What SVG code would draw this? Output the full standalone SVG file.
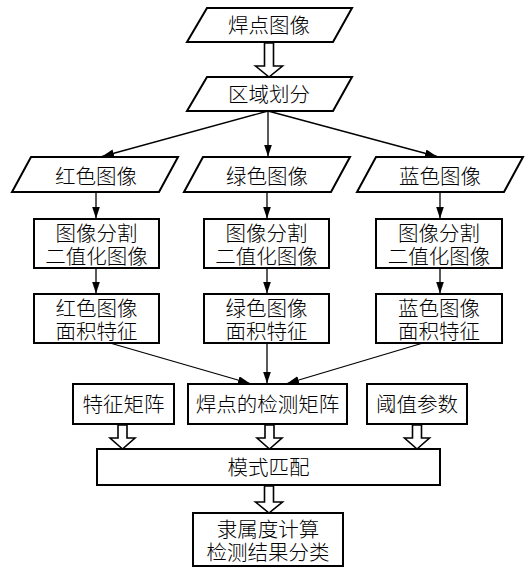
<svg xmlns="http://www.w3.org/2000/svg" width="532" height="569" viewBox="0 0 532 569">
<defs>
<style>
.box{fill:#fff;stroke:#000;stroke-width:2}
.hollow{fill:#fff;stroke:#000;stroke-width:1.6;stroke-linejoin:miter}
.ln{fill:none;stroke:#000;stroke-width:1.3}
text{font-family:"Liberation Sans","Noto Sans CJK SC",sans-serif;font-size:20.5px;font-weight:300;fill:#000;text-anchor:middle;dominant-baseline:central}
</style>
<marker id="ah" viewBox="0 0 12 8" refX="12" refY="4" markerWidth="12" markerHeight="8" markerUnits="userSpaceOnUse" orient="auto">
<path d="M0,0 L12,4 L0,8 Z" fill="#000"/>
</marker>
</defs>
<rect width="532" height="569" fill="#fff"/>
<g id="connectors">
<polygon class="hollow" points="264.5,43 273.5,43 273.5,66 282.5,66 269,77 255.5,66 264.5,66"/>
<line class="ln" x1="268" y1="111" x2="102" y2="156.5" marker-end="url(#ah)"/>
<line class="ln" x1="268" y1="111" x2="268" y2="156.5" marker-end="url(#ah)"/>
<line class="ln" x1="268" y1="111" x2="437" y2="156.5" marker-end="url(#ah)"/>
<line class="ln" x1="96" y1="192" x2="96" y2="218.5" marker-end="url(#ah)"/>
<line class="ln" x1="267" y1="192" x2="267" y2="218.5" marker-end="url(#ah)"/>
<line class="ln" x1="440" y1="192" x2="440" y2="218.5" marker-end="url(#ah)"/>
<line class="ln" x1="96" y1="268" x2="96" y2="293.5" marker-end="url(#ah)"/>
<line class="ln" x1="267" y1="268" x2="267" y2="293.5" marker-end="url(#ah)"/>
<line class="ln" x1="440" y1="268" x2="440" y2="293.5" marker-end="url(#ah)"/>
<line class="ln" x1="110" y1="343" x2="250" y2="383.5" marker-end="url(#ah)"/>
<line class="ln" x1="267" y1="343" x2="267" y2="383.5" marker-end="url(#ah)"/>
<line class="ln" x1="423" y1="343" x2="287" y2="383.5" marker-end="url(#ah)"/>
<polygon class="hollow" points="118,425 127,425 127,438 135,438 122.5,449 110,438 118,438"/>
<polygon class="hollow" points="265,425 274,425 274,438 282,438 269.5,449 257,438 265,438"/>
<polygon class="hollow" points="412.5,425 421.5,425 421.5,438 429.5,438 417,449 404.5,438 412.5,438"/>
<polygon class="hollow" points="264.5,486 273.5,486 273.5,502 282.5,502 269,513 255.5,502 264.5,502"/>
</g>
<g id="n1"><polygon class="box" points="207,8 352,8 333,42 187,42"/><text x="269" y="25">焊点图像</text></g>
<g id="n2"><polygon class="box" points="207,77 352,77 333,111 187,111"/><text x="269" y="94">区域划分</text></g>
<g id="red"><polygon class="box" points="31,157 178,157 159,192 12,192"/><text x="96" y="176">红色图像</text></g>
<g id="green"><polygon class="box" points="203,157 350,157 331,192 184,192"/><text x="267" y="176">绿色图像</text></g>
<g id="blue"><polygon class="box" points="376,157 523,157 504,192 357,192"/><text x="440" y="176">蓝色图像</text></g>
<g id="redSeg"><rect class="box" x="34" y="219" width="125" height="49"/><text x="96.5" y="233">图像分割</text><text x="96.5" y="256">二值化图像</text></g>
<g id="greenSeg"><rect class="box" x="204" y="219" width="125" height="49"/><text x="266.5" y="233">图像分割</text><text x="266.5" y="256">二值化图像</text></g>
<g id="blueSeg"><rect class="box" x="376" y="219" width="126" height="49"/><text x="439" y="233">图像分割</text><text x="439" y="256">二值化图像</text></g>
<g id="redArea"><rect class="box" x="34" y="294" width="125" height="49"/><text x="96.5" y="308">红色图像</text><text x="96.5" y="331">面积特征</text></g>
<g id="greenArea"><rect class="box" x="204" y="294" width="125" height="49"/><text x="266.5" y="308">绿色图像</text><text x="266.5" y="331">面积特征</text></g>
<g id="blueArea"><rect class="box" x="376" y="294" width="126" height="49"/><text x="439" y="308">蓝色图像</text><text x="439" y="331">面积特征</text></g>
<g id="feat"><rect class="box" x="73" y="384" width="101" height="40"/><text x="123.5" y="404">特征矩阵</text></g>
<g id="detect"><rect class="box" x="188" y="384" width="159" height="40"/><text x="267.5" y="404">焊点的检测矩阵</text></g>
<g id="thresh"><rect class="box" x="367" y="384" width="100" height="40"/><text x="417" y="404">阈值参数</text></g>
<g id="match"><rect class="box" x="97" y="449" width="343" height="36"/><text x="268.5" y="467">模式匹配</text></g>
<g id="result"><rect class="box" x="193" y="513" width="150" height="53"/><text x="268" y="529">隶属度计算</text><text x="268" y="552">检测结果分类</text></g>
</svg>
